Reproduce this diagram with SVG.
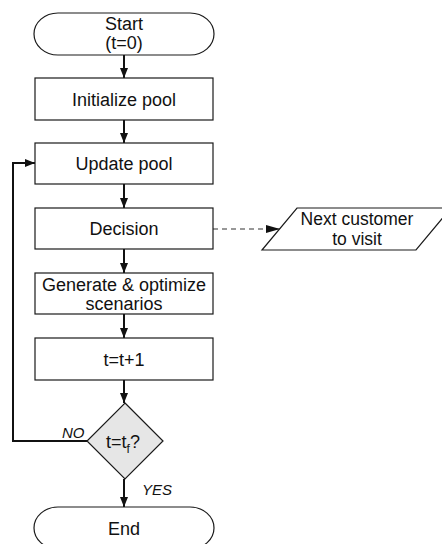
<svg xmlns="http://www.w3.org/2000/svg" width="442" height="544" viewBox="0 0 442 544">
<defs>
<style>
.shape{fill:#ffffff;stroke:#1a1a1a;stroke-width:1.2}
.dia{fill:#e6e6e6;stroke:#1a1a1a;stroke-width:1.2}
.lbl{font-family:"Liberation Sans",Arial,sans-serif;font-size:18px;fill:#111;text-anchor:middle}
.small{font-size:17.5px}
.edge{font-family:"Liberation Sans",Arial,sans-serif;font-size:15px;font-style:italic;fill:#111}
.conn{fill:none;stroke:#111;stroke-width:2}
.dash{fill:none;stroke:#333;stroke-width:1.2;stroke-dasharray:5 4}
</style>
<marker id="arr" markerUnits="userSpaceOnUse" markerWidth="12" markerHeight="10" refX="10" refY="4" orient="auto">
<path d="M0,0 L10,4 L0,8 Z" fill="#111"/>
</marker>
<marker id="arr2" markerUnits="userSpaceOnUse" markerWidth="16" markerHeight="10" refX="14" refY="4" orient="auto">
<path d="M0,0 L14,4 L0,8 Z" fill="#111"/>
</marker>
</defs>
<rect width="442" height="544" fill="#ffffff"/>
<g id="connectors">
<line class="conn" x1="124" y1="55" x2="124" y2="78" marker-end="url(#arr)"/>
<line class="conn" x1="124" y1="120" x2="124" y2="143" marker-end="url(#arr)"/>
<line class="conn" x1="124" y1="184" x2="124" y2="208" marker-end="url(#arr)"/>
<line class="conn" x1="124" y1="249" x2="124" y2="273" marker-end="url(#arr)"/>
<line class="conn" x1="124" y1="314" x2="124" y2="338" marker-end="url(#arr)"/>
<line class="conn" x1="124" y1="380" x2="124" y2="403" marker-end="url(#arr)"/>
<line class="conn" x1="124" y1="479" x2="124" y2="507" marker-end="url(#arr)"/>
<polyline class="conn" points="87,441 13,441 13,163 35,163" marker-end="url(#arr)"/>
<line class="dash" x1="213" y1="229" x2="280" y2="229" marker-end="url(#arr2)"/>
<text class="edge" x="62" y="438">NO</text>
<text class="edge" x="142" y="495">YES</text>
</g>
<g id="start">
<path class="shape" d="M58,13 H190 A24,21 0 0 1 190,55 H58 A24,21 0 0 1 58,13 Z"/>
<text class="lbl" x="124" y="30">Start</text>
<text class="lbl" x="124" y="49">(t=0)</text>
</g>
<g id="init">
<rect class="shape" x="35" y="78" width="178" height="42"/>
<text class="lbl" x="124" y="106">Initialize pool</text>
</g>
<g id="update">
<rect class="shape" x="35" y="143" width="178" height="41"/>
<text class="lbl" x="124" y="170">Update pool</text>
</g>
<g id="decision">
<rect class="shape" x="35" y="208" width="178" height="41"/>
<text class="lbl" x="124" y="235">Decision</text>
</g>
<g id="generate">
<rect class="shape" x="35" y="273" width="178" height="41"/>
<text class="lbl" x="124" y="291">Generate &amp; optimize</text>
<text class="lbl" x="124" y="310">scenarios</text>
</g>
<g id="increment">
<rect class="shape" x="35" y="338" width="178" height="42"/>
<text class="lbl" x="124" y="366">t=t+1</text>
</g>
<g id="check">
<polygon class="dia" points="125,403 163,441 125,479 87,441"/>
<text class="lbl" x="123" y="448">t=t<tspan font-size="12" dy="5">f</tspan><tspan dy="-5">?</tspan></text>
</g>
<g id="end">
<path class="shape" d="M58,507 H190 A24,21 0 0 1 190,549 H58 A24,21 0 0 1 58,507 Z"/>
<text class="lbl" x="124" y="535">End</text>
</g>
<g id="next">
<polygon class="shape" points="297,208 451,208 416,250 262,250"/>
<text class="lbl small" x="357" y="225">Next customer</text>
<text class="lbl small" x="357" y="245">to visit</text>
</g>
</svg>
